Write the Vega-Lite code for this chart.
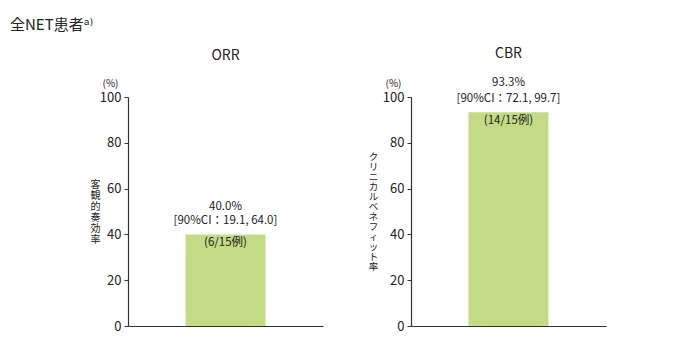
{
  "$schema": "https://vega.github.io/schema/vega-lite/v6.json",
  "background": "white",
  "padding": {"left": 10, "top": 18, "right": 5, "bottom": 5},
  "title": {"text": "全NET患者ᵃ⁾", "anchor": "start", "fontSize": 15, "fontWeight": "normal", "color": "#222", "font": "Noto Sans CJK JP, DejaVu Sans", "dx": -80, "offset": 14},
  "datasets": {
    "orr": [{"cat": "ORR", "value": 40.0, "pct": "40.0%", "ci": "[90%CI：19.1, 64.0]", "n": "(6/15例)"}],
    "cbr": [{"cat": "CBR", "value": 93.3, "pct": "93.3%", "ci": "[90%CI：72.1, 99.7]", "n": "(14/15例)"}]
  },
  "config": {
    "font": "Noto Sans CJK JP",
    "view": {"stroke": null},
    "axis": {"domainColor": "#333", "tickColor": "#333", "labelColor": "#222", "titleColor": "#222", "grid": false},
    "title": {"fontWeight": "normal", "fontSize": 14, "color": "#222"}
  },
  "spacing": 45,
  "hconcat": [
    {
      "title": {"text": "ORR", "offset": 16},
      "width": 195,
      "height": 229,
      "data": {"name": "orr"},
      "layer": [
        {
          "mark": {"type": "bar", "width": 80, "color": "#c2db84"},
          "encoding": {
            "x": {"field": "cat", "type": "nominal", "axis": {"title": null, "labels": false, "ticks": false, "domainWidth": 1.2}},
            "y": {"field": "value", "type": "quantitative", "scale": {"domain": [0, 100]},
              "axis": {"values": [0, 20, 40, 60, 80, 100], "tickSize": 4, "labelFontSize": 13, "labelPadding": 3, "domainWidth": 1.2,
                "title": ["客", "観", "的", "奏", "効", "率"], "titleAngle": 0, "titleFontSize": 10, "titleFontWeight": "normal", "titleLineHeight": 11,
                "titleAlign": "center", "titleBaseline": "middle", "titleX": -33, "titleY": 87}}
          }
        },
        {
          "mark": {"type": "text", "fontSize": 11.5, "color": "#222", "baseline": "middle", "dy": -27},
          "encoding": {
            "x": {"field": "cat", "type": "nominal"},
            "y": {"field": "value", "type": "quantitative"},
            "text": {"field": "pct"}
          }
        },
        {
          "mark": {"type": "text", "fontSize": 11.5, "color": "#222", "baseline": "middle", "dy": -13},
          "encoding": {
            "x": {"field": "cat", "type": "nominal"},
            "y": {"field": "value", "type": "quantitative"},
            "text": {"field": "ci"}
          }
        },
        {
          "mark": {"type": "text", "fontSize": 11.5, "color": "#222", "baseline": "middle", "dy": 9},
          "encoding": {
            "x": {"field": "cat", "type": "nominal"},
            "y": {"field": "value", "type": "quantitative"},
            "text": {"field": "n"}
          }
        },
        {
          "mark": {"type": "text", "fontSize": 10, "color": "#222", "baseline": "bottom", "dx": -115, "dy": -8},
          "encoding": {
            "x": {"field": "cat", "type": "nominal"},
            "y": {"datum": 100, "type": "quantitative"},
            "text": {"value": "(%)"}
          }
        }
      ]
    },
    {
      "title": {"text": "CBR", "offset": 16},
      "width": 195,
      "height": 229,
      "data": {"name": "cbr"},
      "layer": [
        {
          "mark": {"type": "bar", "width": 80, "color": "#c2db84"},
          "encoding": {
            "x": {"field": "cat", "type": "nominal", "axis": {"title": null, "labels": false, "ticks": false, "domainWidth": 1.2}},
            "y": {"field": "value", "type": "quantitative", "scale": {"domain": [0, 100]},
              "axis": {"values": [0, 20, 40, 60, 80, 100], "tickSize": 4, "labelFontSize": 13, "labelPadding": 3, "domainWidth": 1.2,
                "title": ["ク", "リ", "ニ", "カ", "ル", "ベ", "ネ", "フ", "ィ", "ッ", "ト", "率"], "titleAngle": 0, "titleFontSize": 9.5, "titleFontWeight": "normal", "titleLineHeight": 10,
                "titleAlign": "center", "titleBaseline": "middle", "titleX": -38, "titleY": 59}}
          }
        },
        {
          "mark": {"type": "text", "fontSize": 11.5, "color": "#222", "baseline": "middle", "dy": -29},
          "encoding": {
            "x": {"field": "cat", "type": "nominal"},
            "y": {"field": "value", "type": "quantitative"},
            "text": {"field": "pct"}
          }
        },
        {
          "mark": {"type": "text", "fontSize": 11.5, "color": "#222", "baseline": "middle", "dy": -13},
          "encoding": {
            "x": {"field": "cat", "type": "nominal"},
            "y": {"field": "value", "type": "quantitative"},
            "text": {"field": "ci"}
          }
        },
        {
          "mark": {"type": "text", "fontSize": 11.5, "color": "#222", "baseline": "middle", "dy": 9},
          "encoding": {
            "x": {"field": "cat", "type": "nominal"},
            "y": {"field": "value", "type": "quantitative"},
            "text": {"field": "n"}
          }
        },
        {
          "mark": {"type": "text", "fontSize": 10, "color": "#222", "baseline": "bottom", "dx": -115, "dy": -8},
          "encoding": {
            "x": {"field": "cat", "type": "nominal"},
            "y": {"datum": 100, "type": "quantitative"},
            "text": {"value": "(%)"}
          }
        }
      ]
    }
  ]
}
